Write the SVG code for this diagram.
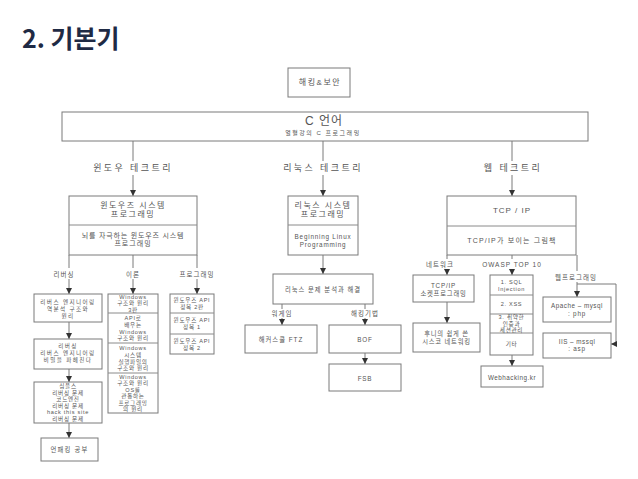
<svg xmlns="http://www.w3.org/2000/svg" width="638" height="479" viewBox="0 0 638 479">
<style>
text{font-family:"Liberation Sans","Noto Sans CJK KR",sans-serif;fill:#555;text-anchor:middle;dominant-baseline:central}
.title{font-family:"Noto Sans CJK KR",sans-serif;font-size:25px;font-weight:bold;fill:#1f2a44;text-anchor:start;dominant-baseline:auto}
.t1{font-size:9px;letter-spacing:2.4px}
.h8{font-size:8px;letter-spacing:1.5px}
.s7{font-size:7px;letter-spacing:1px}
.s6{font-size:5.6px;letter-spacing:0.7px}
.m6{font-size:6.3px;letter-spacing:0.8px}
.lb{font-size:6.5px;letter-spacing:1px}
rect{fill:#fff;stroke:#7a7a7a;stroke-width:1}
line,polyline{stroke:#7a7a7a;stroke-width:1;fill:none}
.dv{stroke:#8a8a8a}
</style>
<defs>
<marker id="ah" markerUnits="userSpaceOnUse" markerWidth="6" markerHeight="6" refX="6" refY="3" orient="auto">
<path d="M0,0 L6,3 L0,6 z" fill="#333"/>
</marker>
</defs>
<rect x="0" y="0" width="638" height="479" style="stroke:none"/>
<text class="title" x="22" y="48">2. 기본기</text>

<g id="connectors">
<line x1="133" y1="141" x2="133" y2="161"/>
<line x1="133" y1="175" x2="133" y2="196" marker-end="url(#ah)"/>
<line x1="323" y1="141" x2="323" y2="161"/>
<line x1="323" y1="175" x2="323" y2="196" marker-end="url(#ah)"/>
<line x1="512" y1="141" x2="512" y2="161"/>
<line x1="512" y1="175" x2="512" y2="196" marker-end="url(#ah)"/>
<line x1="69" y1="255" x2="69" y2="268"/>
<line x1="69" y1="279" x2="69" y2="294" marker-end="url(#ah)"/>
<line x1="133" y1="255" x2="133" y2="268"/>
<line x1="133" y1="279" x2="133" y2="294" marker-end="url(#ah)"/>
<line x1="197" y1="255" x2="197" y2="268"/>
<line x1="197" y1="279" x2="197" y2="294" marker-end="url(#ah)"/>
<line x1="69" y1="322" x2="69" y2="339" marker-end="url(#ah)"/>
<line x1="69" y1="369" x2="69" y2="382" marker-end="url(#ah)"/>
<line x1="69" y1="423" x2="69" y2="438" marker-end="url(#ah)"/>
<line x1="323" y1="255" x2="323" y2="274" marker-end="url(#ah)"/>
<line x1="282" y1="304" x2="282" y2="309"/>
<line x1="282" y1="318" x2="282" y2="325" marker-end="url(#ah)"/>
<line x1="365" y1="304" x2="365" y2="309"/>
<line x1="365" y1="318" x2="365" y2="325" marker-end="url(#ah)"/>
<line x1="365" y1="353" x2="365" y2="364" marker-end="url(#ah)"/>
<line x1="447" y1="255" x2="447" y2="259"/>
<line x1="447" y1="269" x2="447" y2="275" marker-end="url(#ah)"/>
<line x1="512" y1="255" x2="512" y2="259"/>
<line x1="512" y1="269" x2="512" y2="275" marker-end="url(#ah)"/>
<line x1="577" y1="255" x2="577" y2="271"/>
<line x1="577" y1="282" x2="577" y2="297" marker-end="url(#ah)"/>
<polyline points="577,284 616,284 616,344 611,344" marker-end="url(#ah)"/>
<line x1="447" y1="302" x2="447" y2="323" marker-end="url(#ah)"/>
<line x1="512" y1="355" x2="512" y2="366" marker-end="url(#ah)"/>
</g>

<g id="labels">
<text class="t1" x="133" y="168">윈도우 테크트리</text>
<text class="t1" x="323" y="168">리눅스 테크트리</text>
<text class="t1" x="513" y="168">웹 테크트리</text>
<text class="lb" x="64" y="274">리버싱</text>
<text class="lb" x="133" y="274">이론</text>
<text class="lb" x="197" y="274">프로그래밍</text>
<text class="lb" x="282" y="313">워게임</text>
<text class="lb" x="365" y="313">해킹기법</text>
<text class="lb" x="440" y="264">네트워크</text>
<text class="lb" x="512" y="264">OWASP TOP 10</text>
<text class="lb" x="576" y="277">웹프로그래밍</text>
</g>

<g id="node-hacking">
<rect x="288" y="68" width="62" height="29"/>
<text class="h8" x="320" y="82">해킹&amp;보안</text>
</g>

<g id="node-c">
<rect x="62" y="112" width="526" height="29"/>
<text style="font-size:12px;letter-spacing:1px" x="324" y="121">C 언어</text>
<text style="font-size:6px;letter-spacing:1.5px" x="323" y="133">열혈강의 C 프로그래밍</text>
</g>

<g id="node-winsys">
<rect x="69" y="196" width="128" height="59"/>
<line class="dv" x1="69" y1="225" x2="197" y2="225"/>
<text class="h8" x="133" y="205">윈도우즈 시스템</text>
<text class="h8" x="133" y="214">프로그래밍</text>
<text class="s7" style="letter-spacing:0.8px" x="133" y="235">뇌를 자극하는 윈도우즈 시스템</text>
<text class="s7" x="133" y="243">프로그래밍</text>
</g>

<g id="node-rev1">
<rect x="34" y="294" width="68" height="28"/>
<text class="s6" style="letter-spacing:1.4px" x="68" y="301.5">리버스 엔지니어링</text>
<text class="s6" style="letter-spacing:1.4px" x="68" y="308.5">역분석 구조와</text>
<text class="s6" style="letter-spacing:1.4px" x="68" y="315.5">원리</text>
</g>
<g id="node-rev2">
<rect x="34" y="339" width="68" height="30"/>
<text class="s6" style="letter-spacing:1.4px" x="68" y="346">리버싱</text>
<text class="s6" style="letter-spacing:1.4px" x="68" y="353">리버스 엔지니어링</text>
<text class="s6" style="letter-spacing:1.4px" x="68" y="360">비밀을 파헤친다</text>
</g>
<g id="node-rev3">
<rect x="34" y="382" width="68" height="41"/>
<text class="s6" x="68" y="386">심플스</text>
<text class="s6" x="68" y="392.5">리버싱 문제</text>
<text class="s6" x="68" y="399">코드엔진</text>
<text class="s6" x="68" y="405.5">리버싱 문제</text>
<text class="s6" x="68" y="412">hack this site</text>
<text class="s6" x="68" y="418.5">리버싱 문제</text>
</g>
<g id="node-unpack">
<rect x="41" y="438" width="57" height="23"/>
<text class="m6" style="letter-spacing:1.2px" x="69.5" y="449.5">언패킹 공부</text>
</g>

<g id="node-theory">
<rect x="108" y="294" width="50" height="119"/>
<line class="dv" x1="108" y1="313" x2="158" y2="313"/>
<line class="dv" x1="108" y1="343" x2="158" y2="343"/>
<line class="dv" x1="108" y1="373" x2="158" y2="373"/>
<text class="s6" x="133" y="296.5">Windows</text>
<text class="s6" x="133" y="303">구조와 원리</text>
<text class="s6" x="133" y="309.5">3판</text>
<text class="s6" x="133" y="318">API로</text>
<text class="s6" x="133" y="324.8">배우는</text>
<text class="s6" x="133" y="331.6">Windows</text>
<text class="s6" x="133" y="338.4">구조와 원리</text>
<text class="s6" x="133" y="348">Windows</text>
<text class="s6" x="133" y="354.8">시스템</text>
<text class="s6" x="133" y="361.6">실행파일의</text>
<text class="s6" x="133" y="368.4">구조와 원리</text>
<text class="s6" x="133" y="376.5">Windows</text>
<text class="s6" x="133" y="383">구조와 원리</text>
<text class="s6" x="133" y="389.5">OS를</text>
<text class="s6" x="133" y="396">관통하는</text>
<text class="s6" x="133" y="402.5">프로그래밍</text>
<text class="s6" x="133" y="409">의 원리</text>
</g>

<g id="node-api">
<rect x="170" y="294" width="44" height="60"/>
<line class="dv" x1="170" y1="313" x2="214" y2="313"/>
<line class="dv" x1="170" y1="334" x2="214" y2="334"/>
<text class="s6" x="192" y="300">윈도우즈 API</text>
<text class="s6" x="192" y="307">정복 2판</text>
<text class="s6" x="192" y="320">윈도우즈 API</text>
<text class="s6" x="192" y="327">정복 1</text>
<text class="s6" x="192" y="340.5">윈도우즈 API</text>
<text class="s6" x="192" y="347.5">정복 2</text>
</g>

<g id="node-linuxsys">
<rect x="288" y="196" width="70" height="59"/>
<line class="dv" x1="288" y1="225" x2="358" y2="225"/>
<text class="h8" x="323" y="205">리눅스 시스템</text>
<text class="h8" x="323" y="214">프로그래밍</text>
<text class="m6" x="323" y="236.5">Beginning Linux</text>
<text class="m6" x="323" y="244">Programming</text>
</g>
<g id="node-linuxprob">
<rect x="273" y="274" width="100" height="30"/>
<text class="m6" style="letter-spacing:1px" x="323" y="289">리눅스 문제 분석과 해결</text>
</g>
<g id="node-ftz">
<rect x="245" y="325" width="72" height="28"/>
<text class="m6" style="letter-spacing:1px" x="281" y="339">해커스쿨 FTZ</text>
</g>
<g id="node-bof">
<rect x="329" y="325" width="72" height="28"/>
<text class="m6" x="365" y="339">BOF</text>
</g>
<g id="node-fsb">
<rect x="329" y="364" width="72" height="27"/>
<text class="m6" x="365" y="378">FSB</text>
</g>

<g id="node-tcpip">
<rect x="447" y="196" width="129" height="59"/>
<line class="dv" x1="447" y1="226" x2="576" y2="226"/>
<text class="h8" style="letter-spacing:1px" x="512" y="210">TCP / IP</text>
<text class="s7" style="letter-spacing:1.2px" x="512" y="240">TCP/IP가 보이는 그림책</text>
</g>
<g id="node-socket">
<rect x="413" y="275" width="61" height="27"/>
<text class="m6" x="443.5" y="285">TCP/IP</text>
<text class="m6" x="443.5" y="293">소켓프로그래밍</text>
</g>
<g id="node-cisco">
<rect x="413" y="323" width="67" height="29"/>
<text class="m6" x="446.5" y="333">후니의 쉽게 쓴</text>
<text class="m6" x="446.5" y="341">시스코 네트워킹</text>
</g>
<g id="node-owasp">
<rect x="490" y="275" width="43" height="80"/>
<line class="dv" x1="490" y1="295" x2="533" y2="295"/>
<line class="dv" x1="490" y1="314" x2="533" y2="314"/>
<line class="dv" x1="490" y1="333" x2="533" y2="333"/>
<text class="s6" x="511.5" y="282">1. SQL</text>
<text class="s6" x="511.5" y="288.5">Injection</text>
<text class="s6" x="511.5" y="304">2. XSS</text>
<text class="s6" x="511.5" y="317">3. 취약한</text>
<text class="s6" x="511.5" y="323.5">인증과</text>
<text class="s6" x="511.5" y="330">세션관리</text>
<text class="s6" x="511.5" y="344">기타</text>
</g>
<g id="node-webhacking">
<rect x="481" y="366" width="62" height="21"/>
<text class="m6" style="letter-spacing:0.5px" x="512" y="377">Webhacking.kr</text>
</g>
<g id="node-apache">
<rect x="543" y="297" width="68" height="25"/>
<text class="m6" style="letter-spacing:0.5px" x="577" y="305.5">Apache – mysql</text>
<text class="m6" x="577" y="313">: php</text>
</g>
<g id="node-iis">
<rect x="543" y="333" width="68" height="25"/>
<text class="m6" style="letter-spacing:0.5px" x="577" y="341">IIS – mssql</text>
<text class="m6" x="577" y="348.5">: asp</text>
</g>
</svg>
